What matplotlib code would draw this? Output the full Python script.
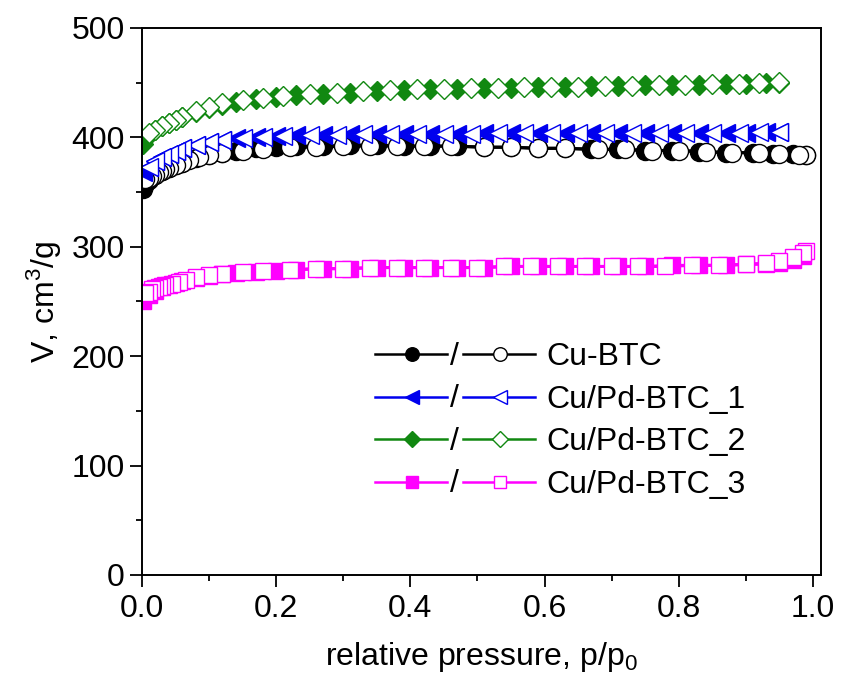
import matplotlib
matplotlib.use('Agg')
import matplotlib.pyplot as plt
from matplotlib.lines import Line2D
from matplotlib.text import Text
from matplotlib.legend_handler import HandlerBase

plt.rcParams['font.family'] = ['Liberation Sans', 'DejaVu Sans']
plt.rcParams['mathtext.fontset'] = 'custom'
plt.rcParams['mathtext.rm'] = 'Liberation Sans'

# Cu-BTC
cu_ads_x = [0.002, 0.005, 0.01, 0.02, 0.03, 0.04, 0.05, 0.06, 0.08, 0.10, 0.12, 0.14, 0.17, 0.20, 0.23, 0.27, 0.31, 0.35,
            0.39, 0.43, 0.47, 0.51, 0.55, 0.59, 0.63, 0.67, 0.71, 0.75, 0.79, 0.83, 0.87, 0.91, 0.94, 0.97, 0.99]
cu_ads_y = [353, 357, 361, 366, 369, 372, 375, 377, 381, 384, 386, 388, 390, 391, 392, 392, 393, 393,
            392, 392, 392, 391, 391, 390, 390, 389, 389, 388, 388, 387, 386, 386, 385, 385, 384]
cu_des_x = [0.99, 0.98, 0.95, 0.92, 0.88, 0.84, 0.80, 0.76, 0.72, 0.68, 0.63, 0.59, 0.55, 0.51, 0.46, 0.42, 0.38, 0.34, 0.30,
            0.26, 0.22, 0.18, 0.15, 0.12, 0.10, 0.085, 0.07, 0.06, 0.05, 0.04, 0.035, 0.03, 0.025, 0.02, 0.015, 0.01, 0.005]
cu_des_y = [384, 384, 385, 386, 386, 387, 388, 388, 389, 389, 390, 390, 391, 391, 392, 392, 392, 392, 392,
            391, 391, 389, 388, 386, 384, 382, 379, 377, 375, 372, 371, 369, 368, 366, 365, 363, 362]

# Cu/Pd-BTC_1
pd1_ads_x = [0.002, 0.01, 0.02, 0.03, 0.04, 0.05, 0.06, 0.08, 0.10, 0.12, 0.14, 0.17, 0.20, 0.23, 0.27, 0.31, 0.35,
             0.39, 0.43, 0.47, 0.51, 0.55, 0.59, 0.63, 0.67, 0.71, 0.75, 0.79, 0.83, 0.87, 0.90, 0.93, 0.95]
pd1_ads_y = [368, 373, 378, 382, 385, 388, 390, 393, 396, 398, 399, 400, 401, 402, 402, 403, 403,
             403, 403, 403, 404, 404, 404, 404, 404, 404, 404, 404, 404, 404, 404, 405, 405]
pd1_des_x = [0.95, 0.92, 0.89, 0.85, 0.81, 0.77, 0.73, 0.69, 0.65, 0.61, 0.57, 0.53, 0.49, 0.45, 0.41, 0.37,
             0.33, 0.29, 0.25, 0.21, 0.18, 0.15, 0.12, 0.10, 0.08, 0.06, 0.05, 0.04, 0.03, 0.02, 0.01]
pd1_des_y = [405, 405, 404, 404, 404, 404, 404, 404, 404, 404, 404, 404, 403, 403, 403, 403,
             403, 402, 402, 401, 400, 399, 398, 396, 393, 390, 388, 385, 382, 378, 373]

# Cu/Pd-BTC_2
pd2_ads_x = [0.002, 0.01, 0.02, 0.03, 0.04, 0.05, 0.06, 0.08, 0.10, 0.12, 0.14, 0.17, 0.20, 0.23, 0.27, 0.31, 0.35,
             0.39, 0.43, 0.47, 0.51, 0.55, 0.59, 0.63, 0.67, 0.71, 0.75, 0.79, 0.83, 0.87, 0.90, 0.93, 0.95]
pd2_ads_y = [394, 402, 407, 410, 413, 416, 419, 423, 427, 430, 432, 435, 437, 439, 440, 441, 442,
             443, 444, 444, 445, 445, 446, 446, 447, 447, 448, 448, 448, 449, 449, 450, 450]
pd2_des_x = [0.95, 0.92, 0.89, 0.85, 0.81, 0.77, 0.73, 0.69, 0.65, 0.61, 0.57, 0.53, 0.49, 0.45, 0.41, 0.37,
             0.33, 0.29, 0.25, 0.21, 0.18, 0.15, 0.12, 0.10, 0.08, 0.06, 0.05, 0.04, 0.03, 0.02, 0.01]
pd2_des_y = [451, 450, 449, 449, 448, 448, 447, 447, 446, 446, 446, 445, 445, 444, 444, 443,
             442, 441, 440, 438, 436, 434, 431, 428, 424, 419, 416, 413, 410, 407, 404]

# Cu/Pd-BTC_3
pd3_ads_x = [0.002, 0.01, 0.02, 0.03, 0.04, 0.05, 0.06, 0.08, 0.10, 0.12, 0.14, 0.17, 0.20, 0.23, 0.27, 0.31, 0.35, 0.39,
             0.43, 0.47, 0.51, 0.55, 0.59, 0.63, 0.67, 0.71, 0.75, 0.79, 0.83, 0.87, 0.90, 0.93, 0.95, 0.97, 0.985]
pd3_ads_y = [250, 256, 260, 263, 265, 267, 269, 271, 273, 275, 276, 277, 278, 279, 280, 280, 281, 281,
             281, 281, 281, 282, 282, 282, 282, 282, 282, 283, 283, 283, 284, 284, 285, 288, 292]
pd3_des_x = [0.99, 0.985, 0.97, 0.95, 0.93, 0.90, 0.86, 0.82, 0.78, 0.74, 0.70, 0.66, 0.62, 0.58, 0.54, 0.50, 0.46, 0.42, 0.38,
             0.34, 0.30, 0.26, 0.22, 0.18, 0.15, 0.12, 0.10, 0.08, 0.065, 0.055, 0.045, 0.035, 0.03, 0.025, 0.02, 0.015, 0.01, 0.005]
pd3_des_y = [296, 294, 291, 287, 285, 284, 283, 283, 282, 282, 282, 282, 282, 282, 282, 281, 281, 281, 281,
             281, 280, 280, 279, 278, 277, 275, 274, 272, 270, 268, 266, 265, 264, 263, 262, 261, 259, 258]

labels = ['Cu-BTC', 'Cu/Pd-BTC_1', 'Cu/Pd-BTC_2', 'Cu/Pd-BTC_3']
colors = ['black', '#0000ee', '#118811', '#ff00ff']
markers = ['o', '<', 'D', 's']
msizes = [13, 12.5, 10.5, 11.5]

series = [(cu_ads_x, cu_ads_y, cu_des_x, cu_des_y),
          (pd1_ads_x, pd1_ads_y, pd1_des_x, pd1_des_y),
          (pd2_ads_x, pd2_ads_y, pd2_des_x, pd2_des_y),
          (pd3_ads_x, pd3_ads_y, pd3_des_x, pd3_des_y)]

FS = 23


class SlashHandler(HandlerBase):
    # filled line / open line, like the Origin legend
    def create_artists(self, legend, orig_handle, xdescent, ydescent, width, height, fontsize, trans):
        c, m, ms = orig_handle
        yc = height / 2 - ydescent
        x0 = -xdescent
        seg = width * 0.45
        a = Line2D([x0, x0 + seg], [yc, yc], color=c, lw=1.8)
        b = Line2D([x0 + seg * 0.52], [yc], marker=m, ms=ms * 0.75, color=c, mfc=c, mec=c)
        s = Text(x0 + width * 0.5, yc - height * 0.12, '/', ha='center', va='center', fontsize=fontsize)
        d = Line2D([x0 + width - seg, x0 + width], [yc, yc], color=c, lw=1.8)
        e = Line2D([x0 + width - seg * 0.48], [yc], marker=m, ms=ms * 0.75, color=c, mfc='white', mec=c, mew=1.0)
        out = [a, b, s, d, e]
        for art in out:
            art.set_transform(trans)
        return out


fig = plt.figure(figsize=(8.42, 6.84), dpi=100)
ax = fig.add_axes([0.1686, 0.1594, 0.8064, 0.7997])

order = [1, 2, 0, 3]
for i in order:
    ax_x, ax_y, de_x, de_y = series[i]
    ax.plot(ax_x, ax_y, color=colors[i], lw=2.2, marker=markers[i], ms=msizes[i],
            mfc=colors[i], mec=colors[i], zorder=2 + i * 0.1)
    ax.plot(de_x, de_y, color=colors[i], lw=2.2, marker=markers[i], ms=msizes[i],
            mfc='white', mec=colors[i], mew=1.0, zorder=2.05 + i * 0.1)

ax.set_xlim(0, 1.012)
ax.set_ylim(0, 500)
ax.set_xticks([0.0, 0.2, 0.4, 0.6, 0.8, 1.0])
ax.set_xticks([0.1, 0.3, 0.5, 0.7, 0.9], minor=True)
ax.set_yticks([0, 100, 200, 300, 400, 500])
ax.set_yticks([50, 150, 250, 350, 450], minor=True)
ax.set_xticklabels(['0.0', '0.2', '0.4', '0.6', '0.8', '1.0'])
ax.tick_params(which='major', direction='out', length=8.5, width=1.3, labelsize=FS)
ax.tick_params(axis='x', which='major', pad=5)
ax.tick_params(axis='y', which='major', pad=4)
ax.tick_params(which='minor', direction='out', length=4.5, width=1.3)
for sp in ax.spines.values():
    sp.set_linewidth(1.4)

ax.set_xlabel('relative pressure, p/p$_0$', fontsize=FS, labelpad=12)
ax.set_ylabel('V, cm$^3$/g', fontsize=FS, labelpad=6)

handles = [(colors[i], markers[i], msizes[i]) for i in range(4)]
ax.legend(handles, labels, handler_map={tuple: SlashHandler()}, loc='upper left',
          bbox_to_anchor=(0.343, 0.425), frameon=False, fontsize=FS, borderaxespad=0,
          handlelength=5.0, handletextpad=0.38, labelspacing=0.39, borderpad=0)

fig.savefig('out.png', dpi=100)
